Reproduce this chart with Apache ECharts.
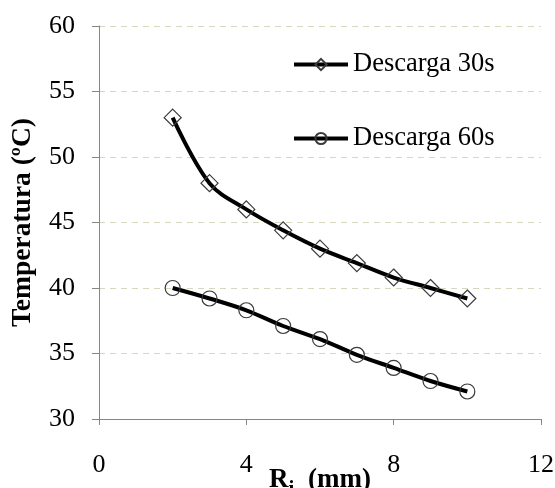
<!DOCTYPE html>
<html>
<head>
<meta charset="utf-8">
<script src="https://cdn.jsdelivr.net/npm/echarts@6/dist/echarts.min.js"></script>
<style>
  html, body { margin: 0; padding: 0; background: #fff; }
  #chart { width: 555px; height: 488px; }
</style>
</head>
<body>
<div id="chart"></div>
<script>
// Inner radius (mm) and measured temperatures (ºC)
const radius = [2, 3, 4, 5, 6, 7, 8, 9, 10];
const temp30s = [53, 48, 46, 44.4, 43, 41.9, 40.8, 40, 39.2];
const temp60s = [40, 39.2, 38.3, 37.1, 36.1, 34.9, 33.9, 32.9, 32.1];
const seriesNames = ['Descarga 30s', 'Descarga 60s'];

const serif = '"Liberation Serif", "DejaVu Serif", serif';

function pairs(xs, ys) {
  return xs.map((x, i) => [x, ys[i]]);
}

function lineSeries(name, ys, symbol, size) {
  return {
    name: name,
    type: 'line',
    data: pairs(radius, ys),
    smooth: 0.35,
    symbol: symbol,
    symbolSize: size,
    showAllSymbol: true,
    lineStyle: { color: '#000', width: 4 },
    itemStyle: { color: 'rgba(255,255,255,0)', borderColor: '#3a3a3a', borderWidth: 1.2 },
    emphasis: { disabled: true },
    z: 3
  };
}

const boldText = { fontFamily: serif, fontSize: 27, fontWeight: 'bold', color: '#000' };

const chart = echarts.init(document.getElementById('chart'), null, { renderer: 'canvas' });
chart.setOption({
  animation: false,
  backgroundColor: '#fff',
  grid: { left: 99, right: 14, top: 26, bottom: 69, containLabel: false, outerBoundsMode: 'none' },
  legend: {
    orient: 'vertical',
    left: 292,
    top: 51,
    itemWidth: 54,
    itemHeight: 14,
    itemGap: 47,
    padding: 0,
    lineStyle: { width: 4, color: '#000' },
    textStyle: { fontFamily: serif, fontSize: 26.5, color: '#000' },
    data: seriesNames
  },
  xAxis: {
    type: 'value',
    min: 0,
    max: 12,
    interval: 4,
    name: '{r|R}{sub|i}{r|  (mm)}',
    nameLocation: 'middle',
    nameGap: 48,
    nameMoveOverlap: false,
    nameTextStyle: {
      fontFamily: serif, fontSize: 27, fontWeight: 'bold', color: '#000',
      rich: {
        r: Object.assign({ lineHeight: 30, verticalAlign: 'top' }, boldText),
        sub: Object.assign({}, boldText, { fontSize: 21, lineHeight: 33, verticalAlign: 'bottom' })
      }
    },
    axisLine: { lineStyle: { color: '#868686', width: 1 } },
    axisTick: { show: true, length: 6, lineStyle: { color: '#868686' } },
    axisLabel: { fontFamily: serif, fontSize: 26, color: '#000', margin: 33 },
    splitLine: { show: false }
  },
  yAxis: {
    type: 'value',
    min: 30,
    max: 60,
    interval: 5,
    name: 'Temperatura (ºC)',
    nameLocation: 'middle',
    nameGap: 62,
    nameMoveOverlap: false,
    nameRotate: 90,
    nameTextStyle: { fontFamily: serif, fontSize: 27.5, fontWeight: 'bold', color: '#000' },
    axisLine: { show: true, lineStyle: { color: '#868686', width: 1 } },
    axisTick: { show: true, length: 7, lineStyle: { color: '#868686' } },
    axisLabel: { fontFamily: serif, fontSize: 26, color: '#000', margin: 24 },
    splitLine: { show: true, lineStyle: { color: '#d9d6bf', type: [6, 5], width: 1 } }
  },
  series: [
    lineSeries(seriesNames[0], temp30s, 'diamond', 17),
    lineSeries(seriesNames[1], temp60s, 'circle', 15)
  ]
});
</script>
</body>
</html>
